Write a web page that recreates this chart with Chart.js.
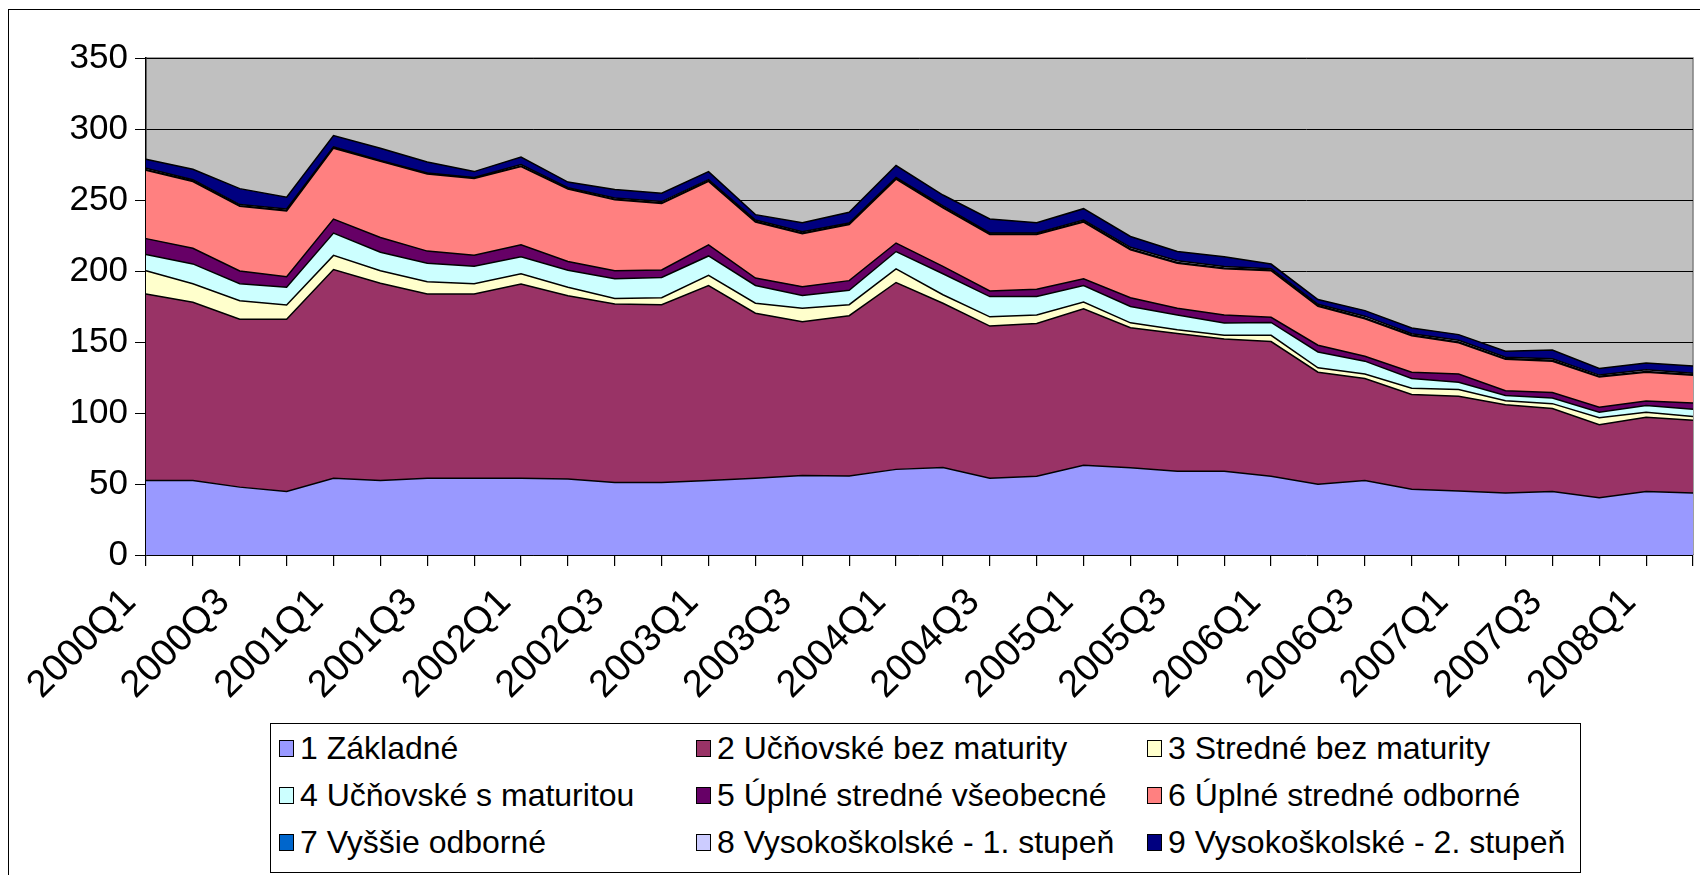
<!DOCTYPE html>
<html><head><meta charset="utf-8">
<script src="https://cdn.jsdelivr.net/npm/chart.js@4/dist/chart.umd.min.js"></script>
<style>
html,body{margin:0;padding:0;background:#fff;width:1700px;height:875px;overflow:hidden}
#frame{position:absolute;left:8px;top:9px;width:1720px;height:900px;border-left:1.5px solid #000;border-top:1.5px solid #000;box-sizing:border-box}
#c{position:absolute;left:0;top:0}
#legend{position:absolute;left:270px;top:723px;width:1311px;height:150px;border:1.5px solid #000;box-sizing:border-box;background:#fff;font-family:"Liberation Sans",Arial,sans-serif;font-size:32px;color:#000}
.item{position:absolute;display:flex;align-items:center;white-space:nowrap;height:40px}
.sw{display:inline-block;width:13px;height:15px;border:1.5px solid #000;margin-right:6px}
</style></head>
<body>
<div id="frame"></div>
<canvas id="c" width="1700" height="875"></canvas>
<div id="legend"></div>
<script>
const quarters = ["2000Q1","2000Q2","2000Q3","2000Q4","2001Q1","2001Q2","2001Q3","2001Q4",
  "2002Q1","2002Q2","2002Q3","2002Q4","2003Q1","2003Q2","2003Q3","2003Q4",
  "2004Q1","2004Q2","2004Q3","2004Q4","2005Q1","2005Q2","2005Q3","2005Q4",
  "2006Q1","2006Q2","2006Q3","2006Q4","2007Q1","2007Q2","2007Q3","2007Q4",
  "2008Q1","2008Q2"];
const yTicks = [0,50,100,150,200,250,300,350];
const seriesNames = ["1 Základné","2 Učňovské bez maturity","3 Stredné bez maturity",
  "4 Učňovské s maturitou","5 Úplné stredné všeobecné","6 Úplné stredné odborné",
  "7 Vyššie odborné","8 Vysokoškolské - 1. stupeň","9 Vysokoškolské - 2. stupeň"];
const s1 = [52.5,52.5,47.8,44.7,54.0,52.5,54.0,54.0,54.0,53.6,51.0,51.0,52.5,54.0,55.9,55.6,60.3,61.6,54.0,55.4,63.2,61.5,59.0,59.0,55.4,49.9,52.5,46.3,45.0,43.7,44.7,40.3,44.7,43.7];
const s2 = [131.3,125.5,118.2,121.3,147.0,138.9,129.8,129.8,136.8,128.9,125.8,125.3,137.3,116.3,108.4,112.9,131.6,115.7,107.2,107.6,110.2,98.5,97.0,93.1,94.9,78.8,71.8,66.8,66.8,62.1,58.5,51.5,52.3,51.2];
const s3 = [16.4,13.0,13.0,10.0,10.0,8.8,8.6,7.2,7.2,6.0,3.9,4.9,7.2,7.0,9.4,7.8,9.6,6.0,6.5,6.0,4.7,3.5,2.6,2.6,4.4,3.1,3.1,4.4,4.7,2.9,3.4,4.9,3.6,2.6];
const s4 = [11.4,14.0,12.0,12.5,15.7,13.0,13.0,12.3,12.0,12.0,13.8,14.3,13.6,12.5,9.1,10.1,12.2,14.8,14.3,13.0,11.7,11.5,10.4,8.6,9.1,11.2,9.1,6.8,5.2,3.6,3.9,3.9,4.7,5.2];
const s5 = [11.2,11.0,9.0,7.5,9.9,10.4,8.6,7.8,8.4,6.2,5.7,5.2,7.8,5.2,6.2,6.8,6.0,5.2,3.9,5.2,4.7,6.2,4.7,5.7,3.6,4.7,3.4,4.4,5.7,3.4,3.9,3.4,3.1,4.4];
const s6 = [48.1,47.0,45.5,46.3,49.9,53.6,54.3,54.1,55.1,51.0,49.9,46.8,44.7,39.5,37.2,39.5,45.0,41.1,39.8,38.5,40.0,33.8,31.7,32.5,32.8,27.5,26.5,25.7,22.1,22.1,22.1,21.3,20.3,19.5];
const s7 = [0.5,0.5,0.5,0.5,0.4,0.3,0.3,0.3,0.5,0.4,0.5,0.5,0.5,0.5,0.5,0.4,0.4,0.5,0.4,0.4,0.5,0.6,0.6,0.6,0.5,0.5,0.6,0.5,0.6,0.5,0.6,0.5,0.6,0.5];
const s8 = [0.9,0.8,0.8,0.9,0.6,0.4,0.5,0.4,0.9,0.6,0.8,0.9,0.8,0.9,0.9,0.7,0.7,0.9,0.7,0.7,0.9,1.1,1.2,1.1,0.9,0.9,1.2,0.9,1.1,1.0,1.1,0.9,1.2,0.9];
const s9 = [6.4,7.4,11.2,8.3,7.9,8.6,7.6,4.1,5.4,3.9,6.0,5.9,5.6,3.8,6.4,7.5,8.5,7.7,9.8,7.2,8.0,7.6,6.5,6.9,3.3,3.3,3.9,4.1,4.0,4.2,6.1,4.6,4.7,5.1];
const colors = ["#9999FF","#993366","#FFFFCC","#CCFFFF","#660066","#FF8080","#0066CC","#CCCCFF","#000080"];

const FONT = '"Liberation Sans", Arial, sans-serif';
const seriesValues = [s1,s2,s3,s4,s5,s6,s7,s8,s9];

const datasets = seriesValues.map((vals, i) => ({
  label: seriesNames[i],
  data: vals,
  backgroundColor: colors[i],
  borderColor: '#000',
  borderWidth: 1.5,
  fill: i === 0 ? 'origin' : '-1',
  pointRadius: 0,
  tension: 0
}));

const plotBg = {
  id: 'plotBg',
  beforeDraw(chart) {
    const {ctx, chartArea: a} = chart;
    ctx.save();
    ctx.fillStyle = '#C0C0C0';
    ctx.fillRect(a.left, a.top, a.right - a.left, a.bottom - a.top);
    ctx.strokeStyle = '#808080';
    ctx.lineWidth = 1.5;
    ctx.beginPath();
    ctx.moveTo(a.left, a.top); ctx.lineTo(a.right, a.top); ctx.lineTo(a.right, a.bottom);
    ctx.stroke();
    ctx.restore();
  }
};

new Chart(document.getElementById('c'), {
  type: 'line',
  data: { labels: quarters, datasets },
  options: {
    responsive: false,
    animation: false,
    layout: { padding: { top: 58, right: 7, left: 0, bottom: 0 } },
    plugins: { legend: { display: false }, tooltip: { enabled: false } },
    elements: { line: { tension: 0 }, point: { radius: 0 } },
    scales: {
      x: {
        offset: false,
        grid: { drawOnChartArea: false, drawTicks: true, tickLength: 11, color: '#000', lineWidth: 1.2 },
        border: { color: '#000', width: 1.5 },
        ticks: {
          autoSkip: false, maxRotation: 45, minRotation: 45,
          font: { size: 38, family: FONT }, color: '#000', padding: 14, labelOffset: -16,
          callback(v, i) { return i % 2 === 0 ? quarters[i] : ''; }
        },
        afterFit(s) { s.height = 320; s.paddingRight = 0; s.paddingLeft = 0; }
      },
      y: {
        stacked: true, min: yTicks[0], max: yTicks[yTicks.length - 1],
        afterBuildTicks(s) { s.ticks = yTicks.map(v => ({ value: v })); },
        grid: { color: '#000', lineWidth: 1, tickLength: 11, drawTicks: true },
        border: { color: '#000', width: 1.5 },
        ticks: { font: { size: 35, family: FONT }, color: '#000', padding: 7 },
        afterFit(s) { s.width = 146; }
      }
    }
  },
  plugins: [plotBg]
});

// legend (3 columns x 3 rows), built from the series names and colours
const legend = document.getElementById('legend');
const colX = [8, 425, 876];
const rowY = [4, 51, 98];
seriesNames.forEach((name, i) => {
  const it = document.createElement('div');
  it.className = 'item';
  it.style.left = colX[i % 3] + 'px';
  it.style.top = rowY[Math.floor(i / 3)] + 'px';
  const sw = document.createElement('span');
  sw.className = 'sw';
  sw.style.background = colors[i];
  const tx = document.createElement('span');
  tx.textContent = name;
  it.appendChild(sw); it.appendChild(tx);
  legend.appendChild(it);
});
</script>
</body></html>
